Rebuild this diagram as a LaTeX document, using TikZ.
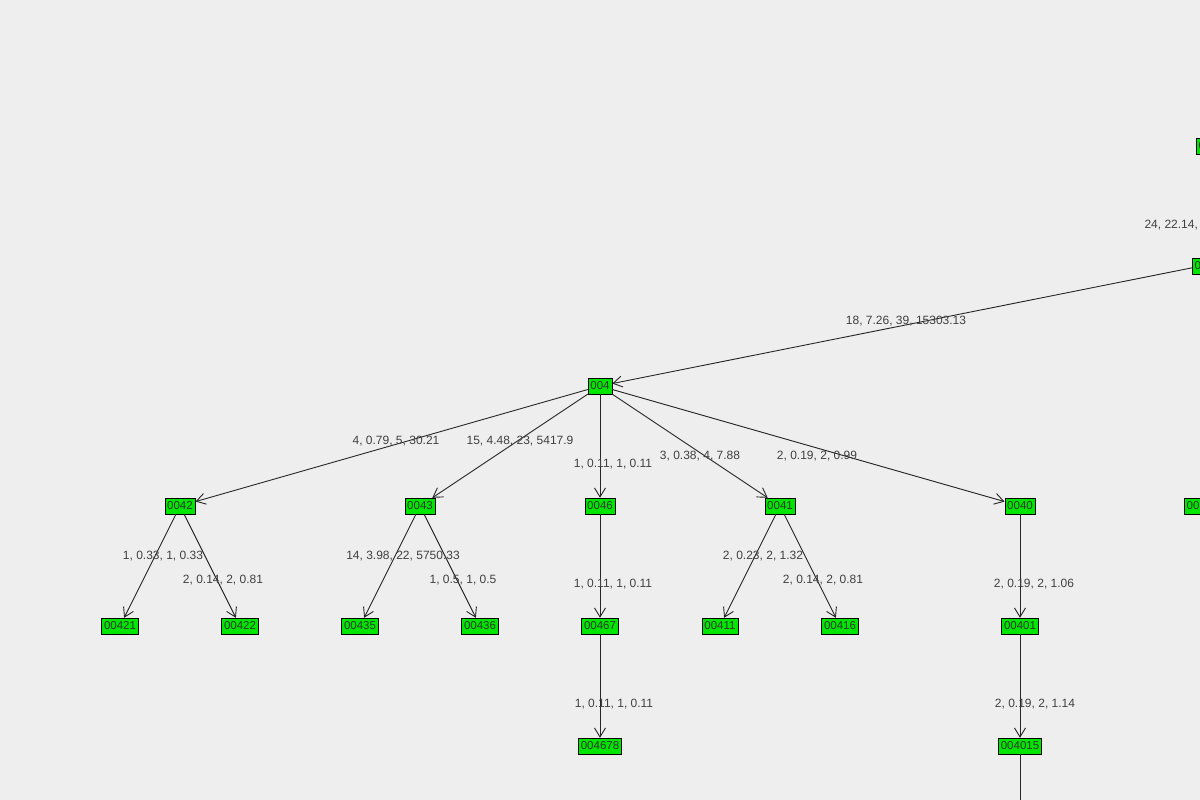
\documentclass[tikz,border=0pt]{standalone}
\usepackage{fontspec}
\setmainfont{Liberation Sans}
\usetikzlibrary{arrows.meta}
\definecolor{bgc}{RGB}{238,238,238}
\definecolor{ndc}{RGB}{0,230,0}
\begin{document}
\begin{tikzpicture}[x=1pt,y=-1pt,
  nd/.style={draw=black,fill=ndc,inner xsep=2.5pt,inner ysep=1.5pt,minimum height=16pt,font=\fontsize{11.5}{12}\selectfont,text=black!80},
  ed/.style={draw=black!85,line width=0.9pt,-{Straight Barb[length=9pt,width=11pt,line width=0.9pt]}},
  lb/.style={font=\fontsize{12}{13}\selectfont,text=black!75}]
\fill[bgc] (0,0) rectangle (1200,800);
\useasboundingbox (0,0) rectangle (1200,800);
\clip (0,0) rectangle (1200,800);
\node[nd,anchor=west] (t) at (1196,146) {00};
\node[nd,anchor=west] (r) at (1192,266) {00};
\node[nd,anchor=west] (rr) at (1184,506) {00};
\node[nd] (a) at (600,386) {004};
\node[nd] (a42) at (180,506) {0042};
\node[nd] (a43) at (420,506) {0043};
\node[nd] (a46) at (600,506) {0046};
\node[nd] (a41) at (780,506) {0041};
\node[nd] (a40) at (1020,506) {0040};
\node[nd] (b421) at (120,626) {00421};
\node[nd] (b422) at (240,626) {00422};
\node[nd] (b435) at (360,626) {00435};
\node[nd] (b436) at (480,626) {00436};
\node[nd] (b467) at (600,626) {00467};
\node[nd] (b411) at (720,626) {00411};
\node[nd] (b416) at (840,626) {00416};
\node[nd] (b401) at (1020,626) {00401};
\node[nd] (c4678) at (600,746) {004678};
\node[nd] (c4015) at (1020,746) {004015};
\coordinate (bot) at (1020,810);
\draw[ed] (r) -- (a);
\draw[ed] (a) -- (a42); \draw[ed] (a) -- (a43); \draw[ed] (a) -- (a46);
\draw[ed] (a) -- (a41); \draw[ed] (a) -- (a40);
\draw[ed] (a42) -- (b421); \draw[ed] (a42) -- (b422);
\draw[ed] (a43) -- (b435); \draw[ed] (a43) -- (b436);
\draw[ed] (a46) -- (b467); \draw[ed] (b467) -- (c4678);
\draw[ed] (a41) -- (b411); \draw[ed] (a41) -- (b416);
\draw[ed] (a40) -- (b401); \draw[ed] (b401) -- (c4015);
\draw[draw=black!85,line width=0.9pt] (c4015) -- (bot);
\node[lb,anchor=west] at (1141,225) {24, 22.14, 0};
\node[lb] at (906,321) {18, 7.26, 39, 15303.13};
\node[lb] at (396,441) {4, 0.79, 5, 30.21};
\node[lb] at (520,441) {15, 4.48, 23, 5417.9};
\node[lb] at (613,464) {1, 0.11, 1, 0.11};
\node[lb] at (700,456) {3, 0.38, 4, 7.88};
\node[lb] at (817,456) {2, 0.19, 2, 0.99};
\node[lb] at (163,556) {1, 0.33, 1, 0.33};
\node[lb] at (223,580) {2, 0.14, 2, 0.81};
\node[lb] at (403,556) {14, 3.98, 22, 5750.33};
\node[lb] at (463,580) {1, 0.5, 1, 0.5};
\node[lb] at (613,584) {1, 0.11, 1, 0.11};
\node[lb] at (763,556) {2, 0.23, 2, 1.32};
\node[lb] at (823,580) {2, 0.14, 2, 0.81};
\node[lb] at (1034,584) {2, 0.19, 2, 1.06};
\node[lb] at (614,704) {1, 0.11, 1, 0.11};
\node[lb] at (1035,704) {2, 0.19, 2, 1.14};
\end{tikzpicture}
\end{document}
